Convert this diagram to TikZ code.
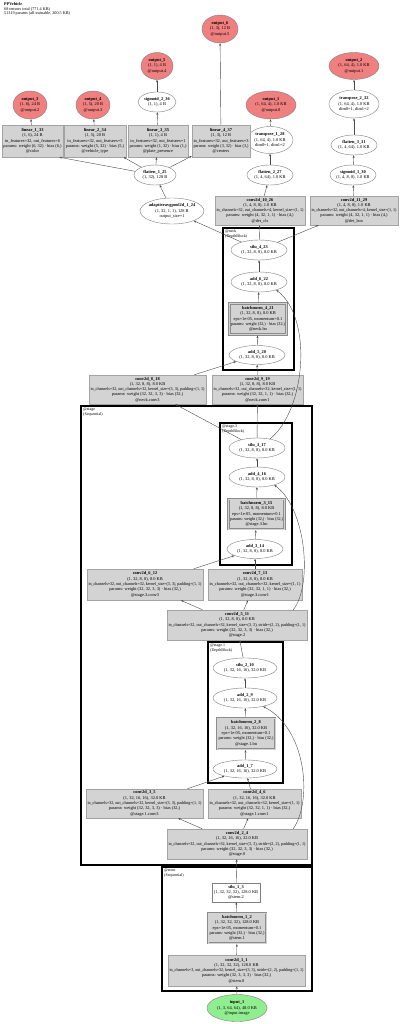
\documentclass[tikz,border=0pt]{standalone}
\usepackage{fontspec}
\setmainfont{Liberation Serif}
\usepackage{graphicx}
\usetikzlibrary{shapes.geometric,arrows.meta}
\definecolor{edgec}{HTML}{4A4A4A}
\definecolor{boxfill}{HTML}{D3D3D3}
\definecolor{boxdraw}{HTML}{A3A3A3}
\definecolor{bndraw}{HTML}{8C8C8C}
\definecolor{outfill}{HTML}{F08080}
\definecolor{infill}{HTML}{90EE90}
\definecolor{elldraw}{HTML}{7F7F7F}
\newcommand\nf{\fontsize{4.4}{5.3}\selectfont}
\newsavebox\fitbx
\newlength\curw
\newcommand\F[1]{\sbox\fitbx{#1}\ifdim\wd\fitbx>\curw\relax\resizebox{\curw}{\ht\fitbx}{\usebox\fitbx}\else\usebox\fitbx\fi}
\newcommand\mkell[7]{\node[ellshape, fill=#6, minimum width=#4pt, minimum height=#5pt, label={[lbl]center:{#7}}] (#1) at (#2,#3) {};}
\newcommand\mkbox[7]{\setlength\curw{#4pt}\addtolength\curw{-3pt}\node[#6, minimum width=#4pt, minimum height=#5pt] (#1) at (#2,#3) {#7};}
\begin{document}
\begin{tikzpicture}[x=1pt,y=-1pt,
  lbl/.style={font=\nf, align=center, inner sep=0pt, text=black},
  ellshape/.style={ellipse, draw=elldraw, line width=0.4pt, inner sep=0pt},
  gbox/.style={rectangle, draw=boxdraw, fill=boxfill, line width=0.5pt, font=\nf, align=center, inner sep=0pt},
  bnbox/.style={rectangle, draw=bndraw, double=boxfill, double distance=0.9pt, fill=boxfill, line width=0.6pt, font=\nf, align=center, inner sep=0pt, outer sep=1.1pt},
  wbox/.style={rectangle, draw=elldraw, fill=white, line width=0.4pt, font=\nf, align=center, inner sep=0pt},
  clus/.style={draw=black, line width=1.1pt},
  cluslbl/.style={font=\fontsize{4}{4.5}\selectfont, align=left, anchor=north west, inner sep=0pt},
  conn/.style={draw=edgec, line width=0.4pt, -{Stealth[length=2.6pt,width=2pt]}}
]
\fill[white] (0,0) rectangle (400,1024);
\useasboundingbox (0,0) rectangle (400,1024);

% title
\node[anchor=north west, inner sep=0pt, align=left, font=\fontsize{4.2}{4.6}\selectfont] (title) at (4,2.5) {\textbf{PPVehicle}\\68 tensors total (771.4 KB)\\51319 params (all trainable, 200.5 KB)};

% clusters
\draw[clus] (81,406) rectangle (312,865);
\node[cluslbl] (lstage) at (83,408) {@stage\\(Sequential)};
\draw[clus] (220,423) rectangle (292,565);
\node[cluslbl] (lstagethree) at (222,425) {@stage.3\\(DepthBlock)};
\draw[clus] (208,642) rectangle (283,783);
\node[cluslbl] (lstageone) at (210,644) {@stage.1\\(DepthBlock)};
\draw[clus] (223,228) rectangle (294,370);
\node[cluslbl] (lneck) at (225,230) {@neck\\(DepthBlock)};
\draw[clus] (162,867) rectangle (312,991);
\node[cluslbl] (lstem) at (164,869) {@stem\\(Sequential)};

% heads
\mkell{out6}{220}{29}{36}{28}{outfill}{\textbf{output\_6}\\(1, 3), 12 B\\@output.5}
\mkell{out5}{157}{66}{32}{27}{outfill}{\textbf{output\_5}\\(1, 1), 4 B\\@output.4}
\mkell{out2}{354}{66}{50}{27}{outfill}{\textbf{output\_2}\\(1, 64, 4), 1.0 KB\\@output.1}
\mkell{out3}{30}{105}{34}{28}{outfill}{\textbf{output\_3}\\(1, 6), 24 B\\@output.2}
\mkell{out4}{93}{105}{34}{28}{outfill}{\textbf{output\_4}\\(1, 5), 20 B\\@output.3}
\mkell{sig236}{157}{102}{38}{20}{white}{\textbf{sigmoid\_2\_36}\\(1, 1), 4 B}
\mkell{out1}{271}{105}{50}{28}{outfill}{\textbf{output\_1}\\(1, 64, 4), 1.0 KB\\@output.0}
\mkell{tr232}{354}{104}{50}{28}{white}{\textbf{transpose\_2\_32}\\(1, 64, 4), 1.0 KB\\dim0=1, dim1=2}
\mkell{tr128}{270}{140}{46}{27}{white}{\textbf{transpose\_1\_28}\\(1, 64, 4), 1.0 KB\\dim0=1, dim1=2}
\mkell{fl331}{354}{145}{46}{20}{white}{\textbf{flatten\_3\_31}\\(1, 4, 64), 1.0 KB}
\mkell{fl125}{155}{175}{42}{20}{white}{\textbf{flatten\_1\_25}\\(1, 32), 128 B}
\mkell{fl227}{270}{175}{46}{20}{white}{\textbf{flatten\_2\_27}\\(1, 4, 64), 1.0 KB}
\mkell{sg130}{353}{175}{46}{20}{white}{\textbf{sigmoid\_1\_30}\\(1, 4, 8, 8), 1.0 KB}
\mkell{aap}{172}{211}{64}{26}{white}{\textbf{adaptiveavgpool2d\_1\_24}\\(1, 32, 1, 1), 128 B\\output\_size=1}

\mkbox{lin1}{32.5}{141}{61}{32}{gbox}{\textbf{linear\_1\_33}\\(1, 6), 24 B\\\F{in\_features=32, out\_features=6}\\\F{params: weight (6, 32) · bias (6,)}\\@color}
\mkbox{lin2}{95}{141}{62}{32}{gbox}{\textbf{linear\_2\_34}\\(1, 5), 20 B\\\F{in\_features=32, out\_features=5}\\\F{params: weight (5, 32) · bias (5,)}\\@vehicle\_type}
\mkbox{lin3}{158}{141}{60}{32}{gbox}{\textbf{linear\_3\_35}\\(1, 1), 4 B\\\F{in\_features=32, out\_features=1}\\\F{params: weight (1, 32) · bias (1,)}\\@plate\_presence}
\mkbox{lin4}{221}{141}{58}{32}{gbox}{\textbf{linear\_4\_37}\\(1, 3), 12 B\\\F{in\_features=32, out\_features=3}\\\F{params: weight (3, 32) · bias (3,)}\\@centers}
\mkbox{c1026}{260}{210.5}{90}{29}{gbox}{\textbf{conv2d\_10\_26}\\(1, 4, 8, 8), 1.0 KB\\\F{in\_channels=32, out\_channels=4, kernel\_size=(1, 1)}\\\F{params: weight (4, 32, 1, 1) · bias (4,)}\\@det\_cls}
\mkbox{c1129}{354}{210.5}{88}{29}{gbox}{\textbf{conv2d\_11\_29}\\(1, 4, 8, 8), 1.0 KB\\\F{in\_channels=32, out\_channels=4, kernel\_size=(1, 1)}\\\F{params: weight (4, 32, 1, 1) · bias (4,)}\\@det\_box}

% neck
\mkell{s423}{259}{250}{56}{20}{white}{\textbf{silu\_4\_23}\\(1, 32, 8, 8), 8.0 KB}
\mkell{a622}{259}{282}{56}{20}{white}{\textbf{add\_6\_22}\\(1, 32, 8, 8), 8.0 KB}
\mkbox{bn421}{258}{319}{57}{31}{bnbox}{\textbf{batchnorm\_4\_21}\\(1, 32, 8, 8), 8.0 KB\\\F{eps=1e-05, momentum=0.1}\\\F{params: weight (32,) · bias (32,)}\\@neck.bn}
\mkell{a520}{257}{355}{56}{19}{white}{\textbf{add\_5\_20}\\(1, 32, 8, 8), 8.0 KB}
\mkbox{c818}{147.5}{389.5}{117}{29}{gbox}{\textbf{conv2d\_8\_18}\\(1, 32, 8, 8), 8.0 KB\\\F{in\_channels=32, out\_channels=32, kernel\_size=(3, 3), padding=(1, 1)}\\\F{params: weight (32, 32, 3, 3) · bias (32,)}\\@neck.conv3}
\mkbox{c919}{257.5}{389.5}{91}{29}{gbox}{\textbf{conv2d\_9\_19}\\(1, 32, 8, 8), 8.0 KB\\\F{in\_channels=32, out\_channels=32, kernel\_size=(1, 1)}\\\F{params: weight (32, 32, 1, 1) · bias (32,)}\\@neck.conv1}

% stage.3
\mkell{s317}{257}{448}{56}{20}{white}{\textbf{silu\_3\_17}\\(1, 32, 8, 8), 8.0 KB}
\mkell{a416}{257}{477}{56}{20}{white}{\textbf{add\_4\_16}\\(1, 32, 8, 8), 8.0 KB}
\mkbox{bn315}{256.5}{514}{56}{30}{bnbox}{\textbf{batchnorm\_3\_15}\\(1, 32, 8, 8), 8.0 KB\\\F{eps=1e-05, momentum=0.1}\\\F{params: weight (32,) · bias (32,)}\\@stage.3.bn}
\mkell{a314}{255}{549}{56}{19}{white}{\textbf{add\_3\_14}\\(1, 32, 8, 8), 8.0 KB}
\mkbox{c612}{145}{584.5}{116}{31}{gbox}{\textbf{conv2d\_6\_12}\\(1, 32, 8, 8), 8.0 KB\\\F{in\_channels=32, out\_channels=32, kernel\_size=(3, 3), padding=(1, 1)}\\\F{params: weight (32, 32, 3, 3) · bias (32,)}\\@stage.3.conv3}
\mkbox{c713}{255}{584.5}{94}{31}{gbox}{\textbf{conv2d\_7\_13}\\(1, 32, 8, 8), 8.0 KB\\\F{in\_channels=32, out\_channels=32, kernel\_size=(1, 1)}\\\F{params: weight (32, 32, 1, 1) · bias (32,)}\\@stage.3.conv1}
\mkbox{c511}{237}{625}{140}{30}{gbox}{\textbf{conv2d\_5\_11}\\(1, 32, 8, 8), 8.0 KB\\\F{in\_channels=32, out\_channels=32, kernel\_size=(3, 3), stride=(2, 2), padding=(1, 1)}\\\F{params: weight (32, 32, 3, 3) · bias (32,)}\\@stage.2}

% stage.1
\mkell{s210}{245}{668}{64}{20}{white}{\textbf{silu\_2\_10}\\(1, 32, 16, 16), 32.0 KB}
\mkell{a29}{245}{698}{64}{20}{white}{\textbf{add\_2\_9}\\(1, 32, 16, 16), 32.0 KB}
\mkbox{bn28}{246}{733.5}{58}{31}{bnbox}{\textbf{batchnorm\_2\_8}\\(1, 32, 16, 16), 32.0 KB\\\F{eps=1e-05, momentum=0.1}\\\F{params: weight (32,) · bias (32,)}\\@stage.1.bn}
\mkell{a17}{245}{769}{64}{18}{white}{\textbf{add\_1\_7}\\(1, 32, 16, 16), 32.0 KB}
\mkbox{c35}{144.5}{803.5}{117}{29}{gbox}{\textbf{conv2d\_3\_5}\\(1, 32, 16, 16), 32.0 KB\\\F{in\_channels=32, out\_channels=32, kernel\_size=(3, 3), padding=(1, 1)}\\\F{params: weight (32, 32, 3, 3) · bias (32,)}\\@stage.1.conv3}
\mkbox{c46}{254.5}{803.5}{93}{29}{gbox}{\textbf{conv2d\_4\_6}\\(1, 32, 16, 16), 32.0 KB\\\F{in\_channels=32, out\_channels=32, kernel\_size=(1, 1)}\\\F{params: weight (32, 32, 1, 1) · bias (32,)}\\@stage.1.conv1}
\mkbox{c24}{237}{844}{140}{30}{gbox}{\textbf{conv2d\_2\_4}\\(1, 32, 16, 16), 32.0 KB\\\F{in\_channels=32, out\_channels=32, kernel\_size=(3, 3), stride=(2, 2), padding=(1, 1)}\\\F{params: weight (32, 32, 3, 3) · bias (32,)}\\@stage.0}

% stem
\mkbox{s13}{236}{892.5}{48}{19}{wbox}{\textbf{silu\_1\_3}\\\F{(1, 32, 32, 32), 128.0 KB}\\@stem.2}
\mkbox{bn12}{237}{928}{58}{30}{bnbox}{\textbf{batchnorm\_1\_2}\\\F{(1, 32, 32, 32), 128.0 KB}\\\F{eps=1e-05, momentum=0.1}\\\F{params: weight (32,) · bias (32,)}\\@stem.1}
\mkbox{c11}{236.5}{970.5}{137}{31}{gbox}{\textbf{conv2d\_1\_1}\\(1, 32, 32, 32), 128.0 KB\\\F{in\_channels=3, out\_channels=32, kernel\_size=(3, 3), stride=(2, 2), padding=(1, 1)}\\\F{params: weight (32, 3, 3, 3) · bias (32,)}\\@stem.0}
\mkell{in1}{237}{1008}{60}{27}{infill}{\textbf{input\_1}\\(1, 3, 64, 64), 48.0 KB\\@input.image}

% connectors
\draw[conn] (in1) -- (c11);
\draw[conn] (c11) -- (bn12);
\draw[conn] (bn12) -- (s13);
\draw[conn] (s13) -- (c24);
\draw[conn] (c24) -- (c35);
\draw[conn] (c24) -- (c46);
\draw[conn] ([xshift=-14pt]c24.north east) .. controls (313,800) and (306,728) .. (a29.-25);
\draw[conn] (c35) -- (a17);
\draw[conn] (c46) -- (a17);
\draw[conn] (a17) -- (bn28);
\draw[conn] (bn28) -- (a29);
\draw[conn] (a29) -- (s210);
\draw[conn] (s210) -- (c511);
\draw[conn] (c511) -- (c612);
\draw[conn] (c511) -- (c713);
\draw[conn] ([xshift=-14pt]c511.north east) .. controls (313,585) and (306,508) .. (a416.-25);
\draw[conn] (c612) -- (a314);
\draw[conn] (c713) -- (a314);
\draw[conn] (a314) -- (bn315);
\draw[conn] (bn315) -- (a416);
\draw[conn] (a416) -- (s317);
\draw[conn] (s317) -- (c818);
\draw[conn] (s317) -- (c919);
\draw[conn] (s317.35) .. controls (306,410) and (313,318) .. (a622.-25);
\draw[conn] (c818) -- (a520);
\draw[conn] (c919) -- (a520);
\draw[conn] (a520) -- (bn421);
\draw[conn] (bn421) -- (a622);
\draw[conn] (a622) -- (s423);
\draw[conn] (s423) -- (aap);
\draw[conn] (s423) -- (c1026);
\draw[conn] (s423) -- (c1129);
\draw[conn] (aap) -- (fl125);
\draw[conn] (fl125) -- ([xshift=-4pt]lin1.south east);
\draw[conn] (fl125) -- (lin2);
\draw[conn] (fl125) -- (lin3);
\draw[conn] (fl125) -- (lin4);
\draw[conn] (lin1) -- (out3);
\draw[conn] (lin2) -- (out4);
\draw[conn] (lin3) -- (sig236);
\draw[conn] (sig236) -- (out5);
\draw[conn] (lin4) -- (out6);
\draw[conn] (c1026) -- (fl227);
\draw[conn] (fl227) -- (tr128);
\draw[conn] (tr128) -- (out1);
\draw[conn] (c1129) -- (sg130);
\draw[conn] (sg130) -- (fl331);
\draw[conn] (fl331) -- (tr232);
\draw[conn] (tr232) -- (out2);
\end{tikzpicture}
\end{document}
